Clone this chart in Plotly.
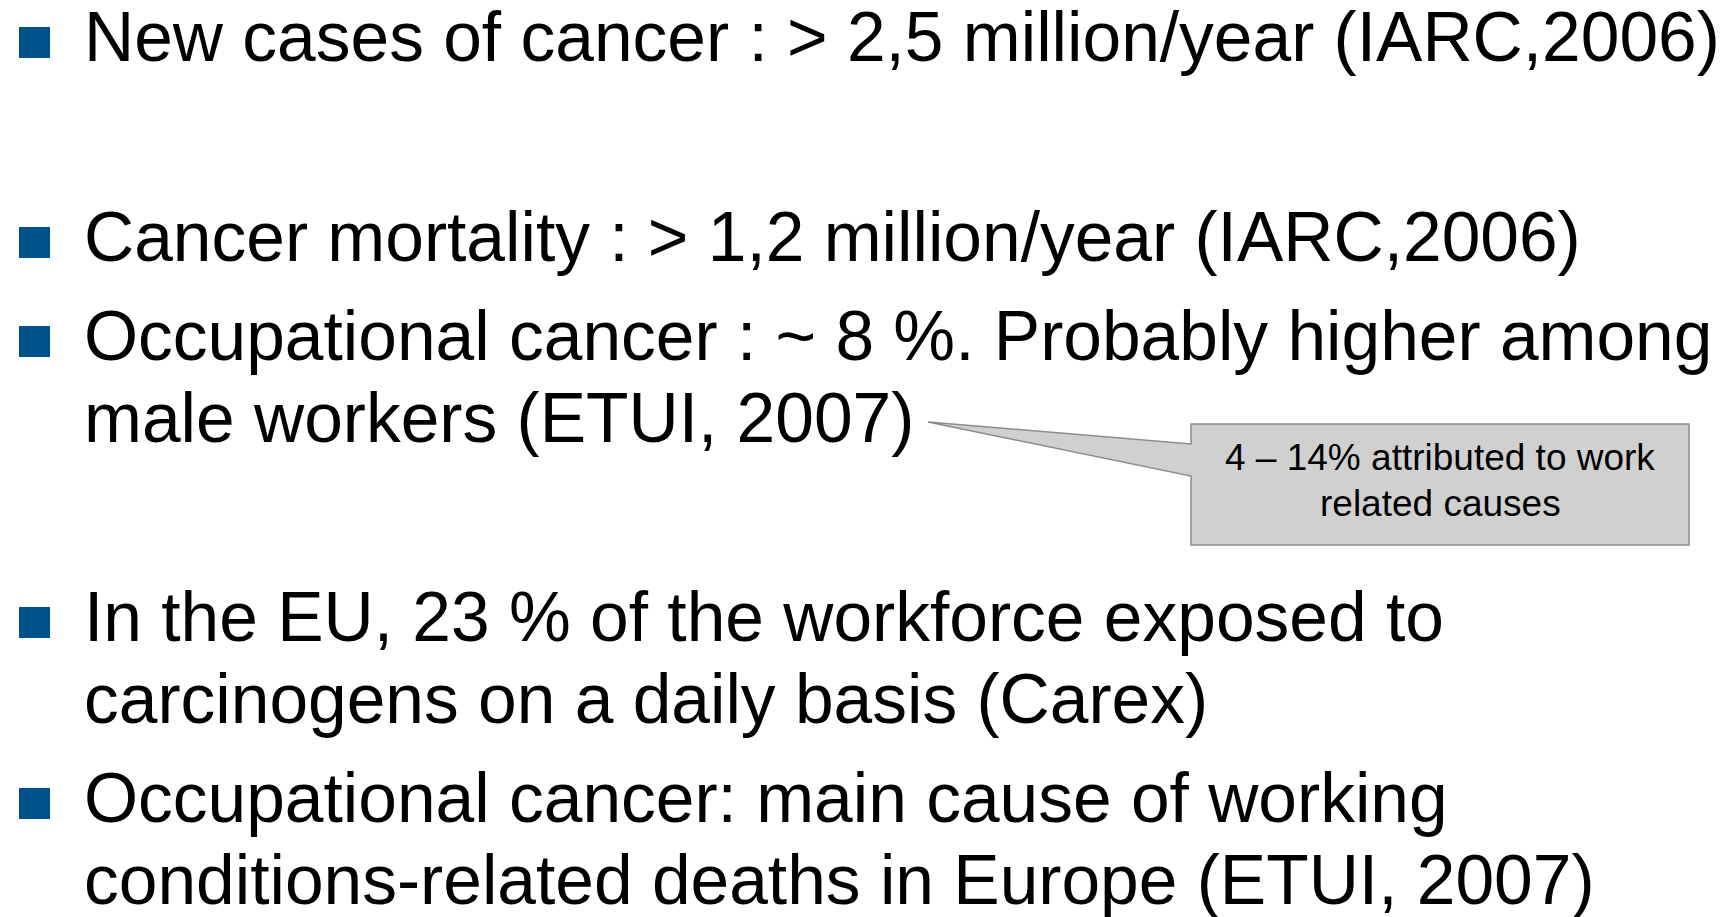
import plotly.graph_objects as go

# ---- content ----
paragraphs = [
    ["New cases of cancer : > 2,5 million/year (IARC,2006)"],
    ["Cancer mortality : > 1,2 million/year (IARC,2006)"],
    ["Occupational cancer : ~ 8 %. Probably higher among", "male workers (ETUI, 2007)"],
    ["In the EU, 23 % of the workforce exposed to", "carcinogens on a daily basis (Carex)"],
    ["Occupational cancer: main cause of working", "conditions-related deaths in Europe (ETUI, 2007)"],
]
callout_lines = ["4 \u2013 14% attributed to work", "related causes"]

# ---- layout constants (page pixels) ----
W, H = 1727, 917
PAGE_OFF = 8  # default body margin of the html page
para_baselines = [62, 262, 361, 642, 823]
line_gap = 82
font_size = 69.5
text_x = 82
bullet_x0, bullet_x1 = 19, 50
bullet_half = 15.5
bullet_color = "#00528C"
font_family = "Liberation Sans, Arial, sans-serif"

box_x0, box_x1, box_y0, box_y1 = 1191, 1689, 424, 545
tip = (928, 422)
base_y0, base_y1 = 444, 476
callout_centers = [457, 503]
callout_font = 37

fig = go.Figure()
fig.add_trace(go.Scatter(x=[PAGE_OFF, W + PAGE_OFF], y=[PAGE_OFF, H + PAGE_OFF], mode="markers",
                         marker=dict(opacity=0), hoverinfo="skip", showlegend=False))

annotations = []
shapes = []
for para, base in zip(paragraphs, para_baselines):
    cy = base - 19.5
    shapes.append(dict(type="rect", xref="x", yref="y",
                       x0=bullet_x0, x1=bullet_x1, y0=cy - bullet_half, y1=cy + bullet_half,
                       fillcolor=bullet_color, line=dict(width=0)))
    for i, line in enumerate(para):
        b = base + i * line_gap
        annotations.append(dict(x=text_x, y=b - 0.36 * font_size, xref="x", yref="y",
                                text=line, showarrow=False, xanchor="left", yanchor="middle",
                                font=dict(size=font_size, color="black", family=font_family)))

path = (f"M {tip[0]},{tip[1]} L {box_x0},{base_y0} L {box_x0},{box_y0} L {box_x1},{box_y0} "
        f"L {box_x1},{box_y1} L {box_x0},{box_y1} L {box_x0},{base_y1} Z")
shapes.append(dict(type="path", xref="x", yref="y", path=path,
                   fillcolor="#D0D0D0", line=dict(color="#8C8C8C", width=1.5)))
for line, cy in zip(callout_lines, callout_centers):
    annotations.append(dict(x=(box_x0 + box_x1) / 2, y=cy, xref="x", yref="y",
                            text=line, showarrow=False, xanchor="center", yanchor="middle",
                            font=dict(size=callout_font, color="black", family=font_family)))

fig.update_layout(
    width=W, height=H,
    margin=dict(l=0, r=0, t=0, b=0),
    paper_bgcolor="white", plot_bgcolor="white",
    xaxis=dict(range=[PAGE_OFF, W + PAGE_OFF], visible=False, fixedrange=True),
    yaxis=dict(range=[H + PAGE_OFF, PAGE_OFF], visible=False, fixedrange=True),
    shapes=shapes, annotations=annotations,
    showlegend=False,
)
fig.write_html("out.html", config={"displayModeBar": False})
